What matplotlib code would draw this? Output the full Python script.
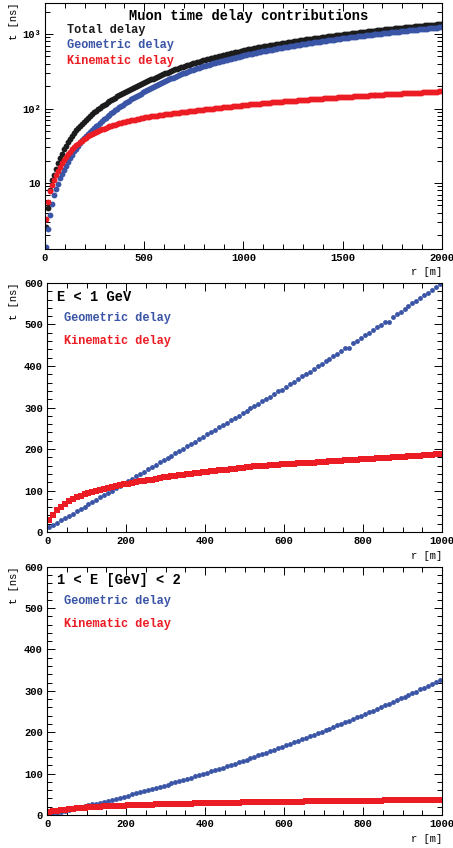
#!/usr/bin/env python3
"""
Muon time delay contributions vs. distance to shower core.
Three panels: all muons (log scale), E < 1 GeV and 1 < E < 2 GeV.
"""

import matplotlib
matplotlib.use('Agg')
import matplotlib.pyplot as plt
import numpy as np
from matplotlib.ticker import MultipleLocator, LogLocator, NullFormatter

# ---------------------------------------------------------------------------
# Data (bin centres every 10 m, values in ns)
# ---------------------------------------------------------------------------
r_top = np.arange(5, 2000, 10)
r_low = np.arange(5, 1000, 10)

total_all = [
    2.6, 4.6, 8.0, 11.0, 12.8, 15.3, 18.3, 21.5, 24.8, 28.2,
    31.8, 35.5, 39.2, 43.0, 46.8, 50.7, 54.6, 58.6, 62.7, 66.9,
    71.2, 75.6, 80.0, 84.5, 89.1, 93.5, 97.8, 102.2, 106.7, 111.3,
    115.9, 120.6, 125.5, 130.3, 135.3, 140.3, 145.5, 150.7, 156.0, 161.3,
    166.8, 172.4, 178.0, 183.8, 189.6, 195.5, 201.5, 207.6, 213.8, 220.1,
    226.5, 232.9, 239.5, 246.1, 252.9, 259.8, 266.8, 273.9, 281.0, 288.3,
    295.8, 303.3, 310.9, 318.6, 326.3, 334.6, 342.2, 349.9, 357.6, 365.2,
    373.9, 381.4, 389.1, 396.7, 404.2, 412.9, 420.5, 428.0, 435.6, 443.2,
    451.8, 459.4, 466.9, 474.5, 482.0, 490.6, 498.2, 505.7, 513.3, 520.8,
    529.4, 536.9, 544.4, 552.0, 559.5, 568.1, 575.6, 583.1, 590.6, 598.2,
    607, 614, 622, 630, 638, 645, 653, 661, 668, 676,
    684, 692, 699, 707, 715, 722, 730, 738, 745, 753,
    761, 769, 776, 784, 792, 799, 807, 815, 822, 830,
    838, 846, 853, 861, 869, 876, 884, 891, 899, 907,
    914, 922, 930, 937, 945, 953, 960, 968, 976, 983,
    991, 999, 1006, 1014, 1022, 1029, 1037, 1045, 1052, 1060,
    1068, 1075, 1083, 1091, 1098, 1106, 1114, 1121, 1129, 1136,
    1144, 1152, 1159, 1167, 1174, 1182, 1190, 1197, 1205, 1212,
    1220, 1228, 1235, 1243, 1250, 1258, 1266, 1273, 1281, 1288,
    1296, 1304, 1311, 1319, 1326, 1334, 1341, 1349, 1356, 1364,
]

geometric_all = [
    1.4, 2.4, 3.7, 5.3, 6.8, 8.3, 9.8, 11.5, 13.2, 15.0,
    17.0, 19.2, 21.5, 24.0, 26.5, 29.0, 31.7, 34.5, 37.3, 39.9,
    42.6, 45.4, 48.3, 51.3, 54.4, 57.6, 60.9, 64.3, 67.8, 71.4,
    75.1, 78.9, 82.8, 86.8, 90.9, 95.1, 99.4, 103.8, 108.3, 112.9,
    117.6, 122.4, 127.3, 132.3, 137.4, 142.6, 147.9, 153.3, 158.8, 164.4,
    170.1, 175.9, 181.8, 187.8, 193.9, 200.1, 206.4, 212.8, 219.3, 225.9,
    232.6, 239.4, 246.3, 253.3, 260.4, 268, 275, 282, 289, 296,
    304, 311, 318, 325, 332, 340, 347, 354, 361, 368,
    376, 383, 390, 397, 404, 412, 419, 426, 433, 440,
    448, 455, 462, 469, 476, 484, 491, 498, 505, 512,
    520, 527, 534, 541, 548, 556, 563, 570, 577, 584,
    592, 599, 606, 613, 620, 628, 635, 642, 649, 656,
    664, 671, 678, 685, 692, 700, 707, 714, 721, 728,
    736, 743, 750, 757, 764, 772, 779, 786, 793, 800,
    808, 815, 822, 829, 836, 844, 851, 858, 865, 872,
    880, 887, 894, 901, 908, 916, 923, 930, 937, 944,
    952, 959, 966, 973, 980, 988, 995, 1002, 1009, 1016,
    1024, 1031, 1038, 1045, 1052, 1060, 1067, 1074, 1081, 1088,
    1096, 1103, 1110, 1117, 1124, 1132, 1139, 1146, 1153, 1160,
    1168, 1175, 1182, 1189, 1196, 1204, 1211, 1218, 1225, 1232,
]

kinematic_all = [
    3.3, 5.6, 7.7, 9.5, 11.1, 12.7, 14.5, 16.4, 18.3, 20.3,
    22.3, 24.2, 26.2, 28.2, 30.1, 32.0, 33.8, 35.5, 37.1, 38.9,
    40.8, 42.4, 43.9, 45.4, 46.8, 48.3, 49.7, 51.0, 52.4, 53.7,
    54.9, 56.2, 57.4, 58.6, 59.7, 60.9, 62.1, 63.1, 64.2, 65.2,
    66.3, 67.3, 68.3, 69.3, 70.2, 71.2, 72.1, 73.1, 74.0, 75.0,
    75.8, 76.6, 77.4, 78.2, 79.0, 79.8, 80.6, 81.4, 82.2, 83.0,
    83.6, 84.3, 85.0, 85.7, 86.4, 87.1, 87.7, 88.3, 89.0, 89.6,
    90.2, 90.8, 91.5, 92.2, 92.8, 93.5, 94.2, 94.9, 95.7, 96.4,
    97.2, 97.9, 98.6, 99.3, 100.0, 100.8, 101.5, 102.2, 102.9, 103.6,
    104.3, 105.0, 105.7, 106.4, 107.1, 107.8, 108.5, 109.1, 109.8, 110.5,
    111.2, 111.9, 112.6, 113.3, 113.9, 114.6, 115.3, 115.9, 116.6, 117.3,
    117.9, 118.6, 120.4, 119.8, 120.5, 121.1, 121.8, 122.4, 123.0, 123.7,
    124.3, 125.0, 125.6, 126.2, 126.8, 127.5, 128.1, 128.7, 129.4, 130.0,
    130.6, 131.2, 131.8, 132.4, 133.0, 133.6, 134.2, 134.8, 135.4, 136.0,
    136.6, 137.2, 137.8, 138.4, 139.0, 139.5, 140.1, 140.7, 141.3, 141.9,
    142.5, 143.1, 144.9, 144.2, 144.8, 145.3, 145.9, 146.5, 147.0, 147.6,
    148.2, 148.7, 149.3, 149.8, 150.4, 151.0, 151.5, 152.1, 152.6, 153.2,
    153.8, 154.3, 154.8, 155.4, 157.3, 156.5, 157.0, 157.6, 158.1, 158.7,
    159.3, 159.8, 160.3, 160.9, 161.4, 161.9, 162.5, 163.0, 163.5, 164.0,
    164.6, 165.1, 165.6, 167.5, 166.7, 167.2, 167.7, 168.3, 170.2, 169.3,
]

geometric_e1 = [
    11, 16, 22, 28, 33, 39, 44, 50, 56, 61,
    67, 72, 78, 84, 89, 95, 100, 106, 112, 117,
    123, 128, 134, 140, 145, 151, 156, 162, 168, 173,
    179, 184, 190, 196, 201, 207, 212, 218, 224, 229,
    235, 240, 246, 252, 257, 263, 269, 275, 279, 286,
    292, 298, 303, 309, 315, 321, 326, 333, 339, 343,
    350, 357, 362, 368, 375, 381, 386, 393, 399, 405,
    411, 417, 424, 430, 436, 443, 444, 455, 461, 467,
    474, 480, 486, 493, 499, 505, 506, 518, 525, 531,
    538, 544, 551, 557, 564, 570, 577, 584, 590, 597,
]

kinematic_e1 = [
    28.0, 42.0, 53.0, 61.0, 68.0, 74.0, 79.0, 83.5, 87.5, 91.0,
    94.0, 97.0, 99.7, 102.2, 104.5, 106.7, 108.8, 110.8, 112.8, 114.7,
    116.6, 118.4, 120.2, 122.0, 123.7, 125.4, 125.5, 127.5, 130.1, 131.6,
    133.0, 134.4, 135.8, 137.1, 138.4, 139.7, 141.0, 142.2, 143.4, 144.6,
    145.7, 146.8, 147.9, 149.0, 150.0, 150.2, 152.0, 153.0, 154.0, 154.9,
    155.8, 156.7, 158.5, 158.4, 159.2, 160.0, 160.8, 161.6, 162.3, 163.0,
    163.6, 164.2, 164.8, 165.4, 166.0, 166.6, 167.2, 166.9, 168.4, 169.0,
    169.6, 170.2, 170.8, 171.4, 172.0, 173.6, 173.2, 173.8, 174.4, 175.0,
    175.6, 176.2, 176.9, 177.5, 178.1, 177.9, 179.4, 181.0, 180.6, 181.3,
    181.9, 182.5, 183.2, 183.8, 183.6, 185.1, 185.7, 186.3, 187.0, 187.6,
]

geometric_e12 = [
    2.0, 4.0, 6.0, 8.1, 10.2, 12.3, 14.5, 16.6, 18.8, 21.0,
    23.3, 25.5, 27.8, 30.2, 32.5, 34.9, 37.3, 39.7, 42.1, 44.6,
    47.1, 49.6, 52.2, 54.8, 57.4, 60.0, 62.7, 65.3, 68.0, 70.8,
    73.5, 76.3, 79.1, 82.0, 84.8, 87.7, 90.6, 93.6, 96.5, 99.5,
    102.5, 105.6, 108.6, 111.7, 114.8, 118.0, 121.2, 124.3, 127.6, 130.8,
    134.1, 137.4, 140.7, 144.1, 147.4, 150.8, 154.3, 157.7, 161.2, 164.7,
    168.2, 171.8, 175.4, 179.0, 182.6, 186.3, 189.9, 193.7, 197.4, 201.1,
    204.9, 208.7, 212.6, 216.4, 220.3, 224.3, 228.2, 232.2, 236.2, 240.2,
    244.2, 248.3, 252.4, 256.5, 260.6, 266.5, 269.0, 273.2, 277.5, 281.8,
    286.1, 290.4, 294.7, 298.0, 303.5, 308.0, 312.4, 316.9, 321.4, 325.9,
]

kinematic_e12 = [
    7.0, 9.0, 10.5, 11.8, 13.0, 14.0, 15.0, 16.0, 16.8, 17.6,
    18.3, 19.0, 19.6, 20.2, 20.7, 21.2, 21.7, 22.1, 22.5, 22.9,
    23.3, 23.6, 24.0, 24.3, 24.6, 24.9, 25.2, 25.5, 25.8, 26.1,
    26.3, 26.6, 26.8, 27.1, 27.3, 27.5, 27.8, 28.0, 28.2, 28.4,
    28.6, 28.8, 29.0, 29.2, 29.4, 29.6, 29.8, 29.9, 30.1, 30.3,
    30.4, 32.6, 30.8, 30.9, 31.1, 31.2, 31.4, 31.5, 31.7, 31.8,
    32.0, 32.1, 32.3, 32.4, 32.5, 32.7, 32.8, 32.9, 33.1, 33.2,
    33.3, 33.5, 33.6, 33.7, 33.8, 34.0, 34.1, 34.2, 34.3, 34.4,
    34.6, 34.7, 34.8, 34.9, 35.0, 35.1, 35.3, 37.2, 35.5, 35.6,
    35.7, 35.8, 35.9, 36.0, 36.1, 36.2, 36.3, 36.4, 36.5, 36.6,
]

# ---------------------------------------------------------------------------
# Style
# ---------------------------------------------------------------------------
BLUE = '#3a54a6'
RED = '#ec1c24'
BLACK = '#1c1c1c'
MONO = ['Liberation Mono', 'DejaVu Sans Mono']

plt.rcParams['font.family'] = MONO
plt.rcParams['font.weight'] = 'bold'
plt.rcParams['axes.linewidth'] = 0.8


def style_axes(ax):
    """ROOT-like frame: inward ticks on all four sides."""
    ax.tick_params(which='both', direction='in', top=True, right=True,
                   width=0.7, labelsize=7.6, pad=3, colors='black')
    ax.tick_params(which='major', length=6)
    ax.tick_params(which='minor', length=3.3)
    for lab in ax.get_xticklabels() + ax.get_yticklabels():
        lab.set_fontweight('bold')


def axis_titles(ax, ylab_x):
    ax.text(1.0, -0.095, 'r [m]', transform=ax.transAxes, ha='right',
            va='center', fontsize=7.6, fontweight='normal')
    ax.text(ylab_x, 1.0, 't [ns]', transform=ax.transAxes, ha='center',
            va='top', rotation=90, fontsize=7.6, fontweight='normal')


def plot_all_muons(ax):
    ax.plot(r_top, total_all, 'o', color=BLACK, ms=4.2, mew=0)
    ax.plot(r_top, geometric_all, 'o', color=BLUE, ms=4.2, mew=0)
    ax.plot(r_top, kinematic_all, 'o', color=RED, ms=4.2, mew=0)

    ax.set_yscale('log')
    ax.set_xlim(0, 2000)
    ax.set_ylim(1.3, 2650)
    ax.xaxis.set_major_locator(MultipleLocator(500))
    ax.xaxis.set_minor_locator(MultipleLocator(100))
    ax.yaxis.set_major_locator(LogLocator(base=10))
    ax.yaxis.set_minor_locator(LogLocator(base=10, subs=np.arange(2, 10)))
    ax.yaxis.set_minor_formatter(NullFormatter())
    ax.set_yticks([10, 100, 1000])
    ax.set_yticklabels(['10', '10\u00b2', '10\u00b3'])
    style_axes(ax)

    ax.text(0.513, 0.945, 'Muon time delay contributions', transform=ax.transAxes,
            ha='center', va='center', fontsize=9.9, color='black')
    ax.text(0.055, 0.888, 'Total delay', transform=ax.transAxes,
            ha='left', va='center', fontsize=8.6, color=BLACK)
    ax.text(0.055, 0.826, 'Geometric delay', transform=ax.transAxes,
            ha='left', va='center', fontsize=8.6, color=BLUE)
    ax.text(0.055, 0.762, 'Kinematic delay', transform=ax.transAxes,
            ha='left', va='center', fontsize=8.6, color=RED)
    axis_titles(ax, -0.078)


def plot_energy_bin(ax, geo, kin, label, kin_size):
    ax.plot(r_low, geo, 'o', color=BLUE, ms=3.5, mew=0)
    ax.plot(r_low, kin, 's', color=RED, ms=kin_size, mew=0)

    ax.set_xlim(0, 1000)
    ax.set_ylim(0, 600)
    ax.xaxis.set_major_locator(MultipleLocator(200))
    ax.xaxis.set_minor_locator(MultipleLocator(50))
    ax.yaxis.set_major_locator(MultipleLocator(100))
    ax.yaxis.set_minor_locator(MultipleLocator(20))
    style_axes(ax)

    ax.text(0.025, 0.945, label, transform=ax.transAxes,
            ha='left', va='center', fontsize=9.9, color='black')
    ax.text(0.044, 0.861, 'Geometric delay', transform=ax.transAxes,
            ha='left', va='center', fontsize=8.6, color=BLUE)
    ax.text(0.044, 0.769, 'Kinematic delay', transform=ax.transAxes,
            ha='left', va='center', fontsize=8.6, color=RED)
    axis_titles(ax, -0.0835)


def main():
    fig = plt.figure(figsize=(4.53, 8.48), dpi=100)
    ax_top = fig.add_axes([0.0993, 0.7064, 0.8764, 0.2906])
    ax_mid = fig.add_axes([0.1038, 0.3726, 0.8720, 0.2937])
    ax_bot = fig.add_axes([0.1038, 0.0389, 0.8720, 0.2928])

    plot_all_muons(ax_top)
    plot_energy_bin(ax_mid, geometric_e1, kinematic_e1, 'E < 1 GeV', 4.1)
    plot_energy_bin(ax_bot, geometric_e12, kinematic_e12, '1 < E [GeV] < 2', 4.5)

    fig.savefig('out.png', dpi=100)
    print("Saved: out.png")


if __name__ == '__main__':
    main()
